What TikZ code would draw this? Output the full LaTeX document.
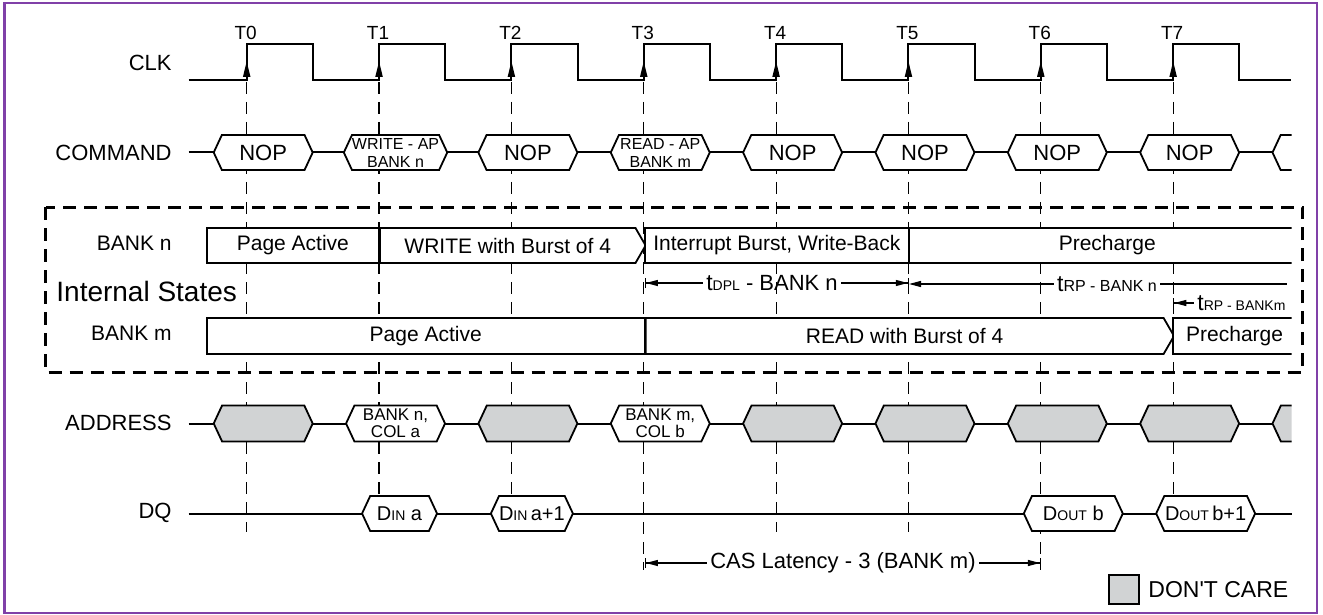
\documentclass[tikz,border=0pt]{standalone}
\usepackage{fontspec}
\setmainfont{Liberation Sans}
\usepackage{tikz}
\usetikzlibrary{arrows.meta}
\usetikzlibrary{shapes.symbols}
\usetikzlibrary{positioning}

\definecolor{framepurple}{RGB}{128,64,168}
\definecolor{dcgray}{RGB}{209,211,212}
\newcommand{\smtxt}[1]{{\fontsize{7}{8}\selectfont #1}}

\begin{document}
\begin{tikzpicture}[
  x=0.5pt, y=-0.5pt,
  every node/.style={font=\fontsize{11}{13}\selectfont},
  wave/.style={line width=1pt},
  tickline/.style={line width=0.6pt, dash pattern=on 6pt off 4pt},
  lbl/.style={anchor=east, inner sep=0pt},
  bus/.style={signal, signal to=west and east, signal pointer angle=130, draw, line width=0.9pt,
    fill=white, minimum width=49.5pt, minimum height=17.5pt, inner sep=0pt, align=center},
  bussm/.style={bus, font=\fontsize{8}{9}\selectfont},
  dcbus/.style={bus, fill=dcgray, minimum height=18pt},
  adrbus/.style={bus, minimum height=18pt, font=\fontsize{8.5}{8.5}\selectfont},
  dqbus/.style={bus, font=\fontsize{10}{12}\selectfont},
  stbox/.style={draw, line width=0.9pt, fill=white, minimum height=17.5pt, inner sep=0pt,
    font=\fontsize{10.5}{12}\selectfont},
  starrow/.style={stbox, signal, signal to=east, signal pointer angle=120, anchor=west},
  dimline/.style={line width=0.6pt},
  dimtxt/.style={inner sep=1.5pt},
]
\useasboundingbox (0,0) rectangle (1323,615);
\draw[framepurple, line width=1.3pt] (4.5,3) rectangle (1317,613);

\foreach \i/\e in {0/532,1/532,2/532,3/570,4/532,5/532,6/570,7/532}
  \draw[tickline] ({246.7+132.35*\i},82) -- ({246.7+132.35*\i},\e);

\coordinate (clkL) at (188.7,80);
\coordinate (clkR) at (1290.7,80);
\draw[wave] (clkL) \foreach \i in {0,...,7}{ -- ({246.7+132.35*\i},80) -- ++(0,-36) -- ++(66.2,0) -- ++(0,36)} -- (clkR);
\foreach \i in {0,...,7}{
  \draw[wave, -{Triangle[length=8pt,width=3.5pt]}] ({246.7+132.35*\i},80) -- ++(0,-19);
  \node[inner sep=0pt, font=\fontsize{9.5}{11}\selectfont] (t\i) at ({245.7+132.35*\i},33) {T\i};
}

\node[lbl] (clk) at (172,63) {CLK};
\node[lbl] (cmd) at (172,152.5) {COMMAND};
\node[lbl, font=\fontsize{10.5}{12}\selectfont] (bkn) at (172,243) {BANK n};
\node[lbl, font=\fontsize{10.5}{12}\selectfont] (bkm) at (172,333) {BANK m};
\node[lbl] (adr) at (172,423) {ADDRESS};
\node[lbl] (dq) at (172,513) {DQ};
\node[anchor=west, inner sep=0pt, font=\fontsize{14}{16}\selectfont] (ist) at (56,291) {Internal States};

\coordinate (cmdL) at (188.7,152.5);
\coordinate (cmdR) at (1291,152.5);
\coordinate (adrL) at (188.7,423.5);
\coordinate (adrR) at (1291,423.5);
\coordinate (dqL) at (188.7,513.5);
\coordinate (dqR) at (1292,513.5);
\draw[wave] (cmdL) -- (cmdR);
\draw[wave] (adrL) -- (adrR);
\draw[wave] (dqL) -- (dqR);

\foreach \i/\s/\txt in {0/bus/NOP, 1/bussm/{WRITE - AP\\BANK n}, 2/bus/NOP, 3/bussm/{READ - AP\\BANK m},
    4/bus/NOP, 5/bus/NOP, 6/bus/NOP, 7/bus/NOP}
  \node[\s] (c\i) at ({263.2+132.35*\i},152.5) {\txt};

\foreach \i/\s/\txt in {0/dcbus/{}, 1/adrbus/{BANK n,\\COL a}, 2/dcbus/{}, 3/adrbus/{BANK m,\\COL b},
    4/dcbus/{}, 5/dcbus/{}, 6/dcbus/{}, 7/dcbus/{}}
  \node[\s] (a\i) at ({263.2+132.35*\i},423.5) {\txt};

\foreach \i/\w/\txt in {1/37.5/{D\smtxt{IN} a}, 2/37.5/{D\smtxt{IN}\,a+1}, 6/49.5/{D\smtxt{OUT} b}, 7/49.5/{D\smtxt{OUT}\,b+1}}
  \node[dqbus, minimum width=\w pt] (d\i) at ({246.7+132.35*\i-17+\w},513.5) {\txt};

\draw[line width=1.5pt, dash pattern=on 6.5pt off 4pt] (45.5,207) rectangle (1302.5,372);

\node[stbox, minimum width=86.15pt] (pan) at (292.85,245.5) {Page Active};
\node[starrow, minimum width=132.85pt] (wrn) at (379,245.5) {WRITE with Burst of 4};
\node[stbox, minimum width=132.15pt] (irn) at (776.85,245.5) {Interrupt Burst, Write-Back};
\node[stbox, minimum width=219pt, minimum height=18pt] (pam) at (425.7,336) {Page Active};
\node[starrow, minimum width=264.2pt, minimum height=18pt] (rdm) at (644.7,336) {READ with Burst of 4};

\begin{scope}
  \clip (0,0) rectangle (1291.5,615);
  \node[bus] (c8) at (1322,152.5) {};
  \node[dcbus] (a8) at (1322,423.5) {};
  \node[stbox, minimum width=198.25pt] (prn) at (1107.25,245.5) {Precharge};
  \node[stbox, minimum width=61.5pt, minimum height=18pt] (prm) at (1234.6,336) {Precharge};
\end{scope}

\coordinate (dplL) at (644.7,283);
\coordinate (dplR) at (909,283);
\node[dimtxt] (dpl) at (772,283) {{\fontsize{11.5}{13}\selectfont t}\smtxt{DPL} - BANK n};
\draw[dimline, {Bar[width=5pt]Triangle[length=6pt,width=3pt]}-] (dplL) -- (dpl.west);
\draw[dimline, -{Triangle[length=6pt,width=3pt]Bar[width=5pt]}] (dpl.east) -- (dplR);

\coordinate (rpnL) at (909,284);
\coordinate (rpnR) at (1287,284);
\node[dimtxt] (rpn) at (1107,284) {{\fontsize{11.5}{13}\selectfont t}{\fontsize{8}{9}\selectfont RP - BANK n}};
\draw[dimline, {Triangle[length=6pt,width=3pt]}-] (rpnL) -- (rpn.west);
\draw[dimline] (rpn.east) -- (rpnR);

\coordinate (rpmL) at (1173.1,303);
\node[dimtxt, anchor=west] (rpm) at (1194,303) {{\fontsize{11.5}{13}\selectfont t}\smtxt{RP - BANKm}};
\draw[dimline, {Bar[width=5pt]Triangle[length=6pt,width=3pt]}-] (rpmL) -- (rpm.west);

\coordinate (casL) at (644.7,563);
\coordinate (casR) at (1041.15,563);
\node[dimtxt] (cas) at (843,563) {CAS Latency - 3 (BANK m)};
\draw[dimline, {Bar[width=5pt]Triangle[length=6pt,width=3pt]}-] (casL) -- (cas.west);
\draw[dimline, -{Triangle[length=6pt,width=3pt]Bar[width=5pt]}] (cas.east) -- (casR);

\node[draw, line width=1pt, fill=dcgray, minimum width=15pt, minimum height=14.5pt, inner sep=0pt] (dcb) at (1124,589.5) {};
\node[right=4pt of dcb, inner sep=0pt, font=\fontsize{11.5}{13}\selectfont] (dct) {DON\textquotesingle T CARE};
\end{tikzpicture}
\end{document}
